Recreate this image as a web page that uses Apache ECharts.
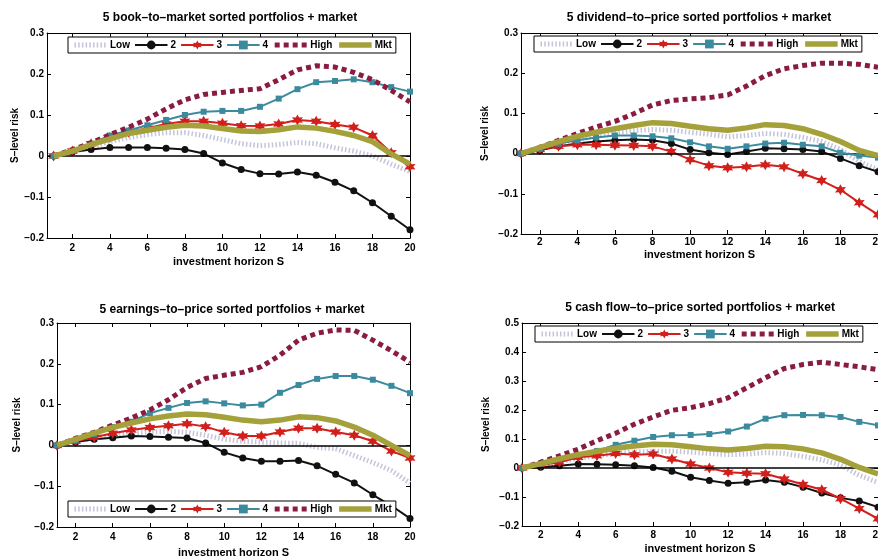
<!DOCTYPE html>
<html>
<head>
<meta charset="utf-8">
<script src="https://cdn.jsdelivr.net/npm/echarts@6/dist/echarts.min.js"></script>
<style>
  html, body { margin: 0; padding: 0; background: #fff; }
  #chart { width: 878px; height: 558px; }
</style>
</head>
<body>
<div id="chart"></div>
<script>
// Investment horizon S and tick labels
const horizon = [1, 2, 3, 4, 5, 6, 7, 8, 9, 10, 11, 12, 13, 14, 15, 16, 17, 18, 19, 20];
const xTickValues = [2, 4, 6, 8, 10, 12, 14, 16, 18, 20];
const seriesNames = ['Low', '2', '3', '4', 'High', 'Mkt'];
const panelTitles = [
  '5 book–to–market sorted portfolios + market',
  '5 dividend–to–price sorted portfolios + market',
  '5 earnings–to–price sorted portfolios + market',
  '5 cash flow–to–price sorted portfolios + market'
];

// Book-to-market sorted portfolios
const bmLow  = [0, 0.010, 0.022, 0.035, 0.045, 0.052, 0.057, 0.057, 0.050, 0.040, 0.030, 0.025, 0.028, 0.033, 0.030, 0.020, 0.012, 0.000, -0.020, -0.038];
const bm2    = [0, 0.010, 0.016, 0.021, 0.021, 0.021, 0.019, 0.016, 0.006, -0.017, -0.033, -0.043, -0.044, -0.039, -0.047, -0.064, -0.085, -0.114, -0.147, -0.180];
const bm3    = [0, 0.012, 0.030, 0.045, 0.058, 0.068, 0.078, 0.085, 0.085, 0.080, 0.074, 0.073, 0.078, 0.088, 0.085, 0.077, 0.070, 0.050, 0.008, -0.026];
const bm4    = [0, 0.013, 0.030, 0.050, 0.062, 0.075, 0.088, 0.100, 0.108, 0.110, 0.110, 0.120, 0.140, 0.163, 0.180, 0.183, 0.187, 0.180, 0.168, 0.157];
const bmHigh = [0, 0.015, 0.032, 0.052, 0.070, 0.090, 0.115, 0.137, 0.150, 0.155, 0.160, 0.164, 0.186, 0.210, 0.220, 0.217, 0.204, 0.186, 0.160, 0.132];
const bmMkt  = [0, 0.012, 0.028, 0.042, 0.055, 0.063, 0.070, 0.075, 0.073, 0.067, 0.061, 0.060, 0.064, 0.071, 0.068, 0.060, 0.050, 0.035, 0.005, -0.020];

// Dividend-to-price sorted portfolios
const dpLow  = [0, 0.010, 0.025, 0.035, 0.045, 0.052, 0.057, 0.060, 0.058, 0.053, 0.048, 0.042, 0.045, 0.050, 0.048, 0.040, 0.030, 0.010, -0.020, -0.040];
const dp2    = [0, 0.008, 0.018, 0.025, 0.030, 0.033, 0.035, 0.033, 0.025, 0.010, 0.002, -0.002, 0.005, 0.013, 0.012, 0.010, 0.005, -0.012, -0.030, -0.045];
const dp3    = [0, 0.010, 0.018, 0.022, 0.022, 0.021, 0.020, 0.018, 0.005, -0.015, -0.030, -0.035, -0.033, -0.028, -0.033, -0.050, -0.067, -0.090, -0.122, -0.152];
const dp4    = [0, 0.012, 0.025, 0.033, 0.040, 0.045, 0.045, 0.043, 0.038, 0.028, 0.018, 0.012, 0.018, 0.025, 0.027, 0.022, 0.018, 0.002, -0.005, -0.010];
const dpHigh = [0, 0.015, 0.033, 0.050, 0.066, 0.080, 0.099, 0.121, 0.132, 0.136, 0.139, 0.146, 0.168, 0.194, 0.211, 0.219, 0.225, 0.225, 0.222, 0.215];
const dpMkt  = [0, 0.015, 0.030, 0.043, 0.053, 0.062, 0.070, 0.077, 0.075, 0.068, 0.062, 0.058, 0.064, 0.072, 0.070, 0.062, 0.048, 0.030, 0.008, -0.005];

// Earnings-to-price sorted portfolios
const epLow  = [0, 0.010, 0.018, 0.025, 0.030, 0.033, 0.034, 0.032, 0.025, 0.015, 0.010, 0.008, 0.006, 0.005, -0.005, -0.008, -0.025, -0.042, -0.062, -0.092];
const ep2    = [0, 0.008, 0.015, 0.019, 0.023, 0.022, 0.020, 0.018, 0.006, -0.017, -0.031, -0.039, -0.039, -0.037, -0.050, -0.071, -0.092, -0.121, -0.148, -0.179];
const ep3    = [0, 0.010, 0.020, 0.030, 0.038, 0.044, 0.048, 0.053, 0.046, 0.032, 0.023, 0.023, 0.033, 0.042, 0.042, 0.033, 0.025, 0.010, -0.014, -0.031];
const ep4    = [0, 0.012, 0.028, 0.045, 0.058, 0.079, 0.092, 0.104, 0.108, 0.103, 0.098, 0.100, 0.129, 0.148, 0.163, 0.170, 0.170, 0.161, 0.146, 0.128];
const epHigh = [0, 0.017, 0.032, 0.050, 0.067, 0.087, 0.112, 0.142, 0.164, 0.172, 0.179, 0.193, 0.221, 0.258, 0.275, 0.283, 0.282, 0.258, 0.232, 0.204];
const epMkt  = [0, 0.015, 0.030, 0.044, 0.055, 0.065, 0.072, 0.077, 0.075, 0.069, 0.062, 0.058, 0.062, 0.070, 0.068, 0.060, 0.045, 0.025, 0.000, -0.025];

// Cash flow-to-price sorted portfolios
const cpLow  = [0, 0.010, 0.022, 0.033, 0.042, 0.050, 0.055, 0.058, 0.058, 0.055, 0.050, 0.046, 0.048, 0.053, 0.050, 0.040, 0.028, 0.010, -0.025, -0.050];
const cp2    = [0, 0.003, 0.008, 0.014, 0.013, 0.011, 0.008, 0.002, -0.011, -0.032, -0.043, -0.053, -0.049, -0.041, -0.049, -0.066, -0.086, -0.103, -0.114, -0.135];
const cp3    = [0, 0.010, 0.020, 0.037, 0.042, 0.050, 0.046, 0.048, 0.031, 0.014, 0.000, -0.015, -0.018, -0.020, -0.038, -0.057, -0.075, -0.106, -0.140, -0.175];
const cp4    = [0, 0.015, 0.030, 0.045, 0.059, 0.080, 0.094, 0.107, 0.113, 0.114, 0.117, 0.126, 0.143, 0.170, 0.182, 0.183, 0.182, 0.176, 0.159, 0.147];
const cpHigh = [0, 0.020, 0.042, 0.065, 0.094, 0.120, 0.151, 0.176, 0.199, 0.208, 0.222, 0.242, 0.277, 0.311, 0.343, 0.357, 0.365, 0.357, 0.349, 0.339];
const cpMkt  = [0, 0.015, 0.032, 0.046, 0.058, 0.068, 0.076, 0.082, 0.080, 0.073, 0.066, 0.062, 0.067, 0.075, 0.073, 0.066, 0.052, 0.030, 0.002, -0.020];

const panelData = [
  [bmLow, bm2, bm3, bm4, bmHigh, bmMkt],
  [dpLow, dp2, dp3, dp4, dpHigh, dpMkt],
  [epLow, ep2, ep3, ep4, epHigh, epMkt],
  [cpLow, cp2, cp3, cp4, cpHigh, cpMkt]
];

// Panel geometry (grid box, axis ranges, title / legend placement)
const panels = [
  { left: 47,  top: 33,  width: 363, height: 205, xMin: 0.65, yMin: -0.2, yMax: 0.3,
    titleX: 230, titleY: 18, legendTop: 37, legendLeft: 68, yNameGap: 19, xNameGap: 18, labelMargin: 5 },
  { left: 521, top: 33,  width: 357, height: 201, xMin: 1, yMin: -0.2, yMax: 0.3,
    titleX: 699, titleY: 18, legendTop: 36, legendLeft: 534, yNameGap: 31, xNameGap: 15, labelMargin: 3 },
  { left: 57,  top: 323, width: 353, height: 204, xMin: 1, yMin: -0.2, yMax: 0.3,
    titleX: 232, titleY: 310, legendTop: 501, legendLeft: 68, yNameGap: 35, xNameGap: 20, labelMargin: 5 },
  { left: 522, top: 323, width: 356, height: 203, xMin: 1, yMin: -0.2, yMax: 0.5,
    titleX: 700, titleY: 308, legendTop: 326, legendLeft: 535, yNameGap: 31, xNameGap: 17, labelMargin: 4 }
];

const FONT = "'Liberation Sans', Arial, Helvetica, sans-serif";

// Six-pointed star marker for portfolio 3
const starPath = (function () {
  const pts = [];
  for (let i = 0; i < 12; i++) {
    const a = -Math.PI / 2 + i * Math.PI / 6;
    const r = i % 2 === 0 ? 10 : 5.2;
    pts.push((r * Math.cos(a)).toFixed(2) + ' ' + (r * Math.sin(a)).toFixed(2));
  }
  return 'path://M' + pts.join(' L') + ' Z';
})();

const styles = {
  'Low':  { color: '#c4c4da', symbol: 'none', size: 0, line: { width: 5, type: [1.5, 2.2], cap: 'butt' } },
  '2':    { color: '#111111', symbol: 'circle', size: 7, line: { width: 2, type: 'solid' } },
  '3':    { color: '#d21f1c', symbol: starPath, size: 11, line: { width: 2, type: 'solid' } },
  '4':    { color: '#3b8a9e', symbol: 'rect', size: 6, line: { width: 2, type: 'solid' } },
  'High': { color: '#8a1c42', symbol: 'none', size: 0, line: { width: 5, type: [5, 4], cap: 'butt' } },
  'Mkt':  { color: '#a4a03a', symbol: 'none', size: 0, line: { width: 5.5, type: 'solid' } }
};

function yLabel(v) {
  if (Math.abs(v) < 1e-9) return '0';
  return (v < 0 ? '−' : '') + Math.abs(v).toFixed(1);
}

// legend entries keep each series' own line weight; lines without markers get no marker in the key
const legendItems = seriesNames.map(function (name) {
  const st = styles[name];
  const item = { name: name, lineStyle: { width: st.line.width, type: st.line.type, color: st.color } };
  if (st.symbol === 'none') item.itemStyle = { opacity: 0 };
  return item;
});

const grid = [], xAxis = [], yAxis = [], series = [], legend = [], graphic = [];

panels.forEach(function (p, gi) {
  grid.push({ left: p.left, top: p.top, width: p.width, height: p.height,
              containLabel: false, outerBoundsMode: 'none', show: false });

  const tickStyle = { show: true, inside: true, length: 4, lineStyle: { color: '#000', width: 1 } };
  const lineStyle = { show: true, onZero: false, lineStyle: { color: '#000', width: 1 } };

  // bottom axis with labels
  xAxis.push({
    gridIndex: gi, type: 'value', position: 'bottom', min: p.xMin, max: 20,
    axisLine: lineStyle,
    axisTick: Object.assign({ customValues: xTickValues }, tickStyle),
    axisLabel: { customValues: xTickValues, margin: p.labelMargin, color: '#000', fontWeight: 'bold', fontSize: 10, fontFamily: FONT },
    splitLine: { show: false },
    name: 'investment horizon S', nameLocation: 'middle', nameGap: p.xNameGap,
    nameTextStyle: { color: '#000', fontWeight: 'bold', fontSize: 11, fontFamily: FONT }
  });
  // top box edge with ticks
  xAxis.push({
    gridIndex: gi, type: 'value', position: 'top', min: p.xMin, max: 20,
    axisLine: lineStyle,
    axisTick: Object.assign({ customValues: xTickValues }, tickStyle),
    axisLabel: { show: false }, splitLine: { show: false }
  });
  // left axis with labels
  yAxis.push({
    gridIndex: gi, type: 'value', position: 'left', min: p.yMin, max: p.yMax, interval: 0.1,
    axisLine: lineStyle, axisTick: tickStyle,
    axisLabel: { formatter: yLabel, margin: 3, color: '#000', fontWeight: 'bold', fontSize: 10, fontFamily: FONT },
    splitLine: { show: false },
    name: 'S–level risk', nameLocation: 'middle', nameGap: p.yNameGap,
    nameTextStyle: { color: '#000', fontWeight: 'bold', fontSize: 10, fontFamily: FONT }
  });
  // right box edge with ticks
  yAxis.push({
    gridIndex: gi, type: 'value', position: 'right', min: p.yMin, max: p.yMax, interval: 0.1,
    axisLine: lineStyle, axisTick: tickStyle,
    axisLabel: { show: false }, splitLine: { show: false }
  });

  seriesNames.forEach(function (name, si) {
    const st = styles[name];
    const values = panelData[gi][si];
    const s = {
      type: 'line', name: name,
      xAxisIndex: gi * 2, yAxisIndex: gi * 2,
      data: horizon.map(function (h, k) { return [h, values[k]]; }),
      symbol: st.symbol === 'none' ? 'circle' : st.symbol,
      symbolSize: st.size, showSymbol: st.symbol !== 'none', showAllSymbol: true,
      itemStyle: { color: st.color },
      lineStyle: Object.assign({ color: st.color }, st.line),
      z: 2 + si,
      clip: true,
      animation: false,
      emphasis: { disabled: true }
    };
    if (si === 0) {
      s.markLine = {
        silent: true, symbol: 'none', animation: false,
        label: { show: false },
        lineStyle: { color: '#000', width: 1.5, type: 'solid' },
        data: [{ yAxis: 0 }]
      };
    }
    series.push(s);
  });

  legend.push({
    data: legendItems,
    left: p.legendLeft, top: p.legendTop,
    orient: 'horizontal',
    backgroundColor: '#fff', borderColor: '#000', borderWidth: 1,
    padding: [3, 4, 3, 4],
    itemWidth: 32.5, itemHeight: 11, itemGap: 4,
    selectedMode: false,
    textStyle: { color: '#000', fontWeight: 'bold', fontSize: 10, fontFamily: FONT, padding: [0, 0, 0, -2] }
  });

  graphic.push({
    type: 'text', x: p.titleX, y: p.titleY,
    style: { text: panelTitles[gi], textAlign: 'center', textVerticalAlign: 'middle',
             font: 'bold 12px ' + FONT, fill: '#000' }
  });
});

const chart = echarts.init(document.getElementById('chart'), null, { renderer: 'canvas' });
chart.setOption({
  animation: false,
  backgroundColor: '#fff',
  grid: grid, xAxis: xAxis, yAxis: yAxis,
  legend: legend, series: series, graphic: graphic
});
</script>
</body>
</html>
